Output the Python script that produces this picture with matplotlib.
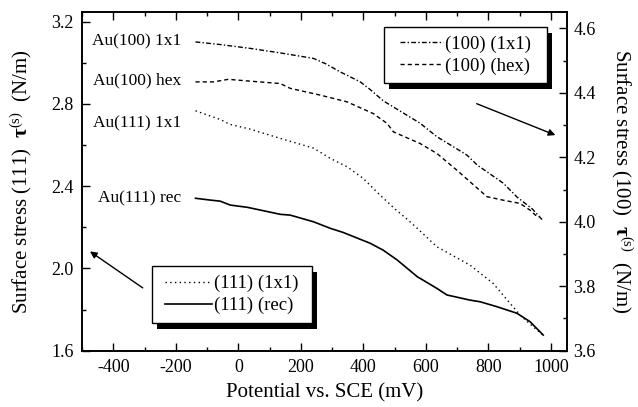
import numpy as np
import matplotlib
matplotlib.use('Agg')
import matplotlib.pyplot as plt
from matplotlib.ticker import MultipleLocator, FormatStrFormatter
from matplotlib.patches import Rectangle
from matplotlib.transforms import ScaledTranslation

plt.rcParams['font.family'] = ['Liberation Serif', 'DejaVu Serif']
plt.rcParams['mathtext.fontset'] = 'custom'
plt.rcParams['mathtext.rm'] = 'Liberation Serif'
plt.rcParams['mathtext.it'] = 'Liberation Serif:italic'
plt.rcParams['mathtext.bf'] = 'Liberation Serif:bold'
plt.rcParams['axes.unicode_minus'] = False

# (100) surfaces, right axis (N/m)
v_100_1x1 = [-137, -58, 38, 134, 240, 280, 326, 390, 422, 464, 581, 635, 731, 764, 847, 891, 940, 975]
s_100_1x1 = [4.558, 4.550, 4.538, 4.524, 4.507, 4.490, 4.465, 4.434, 4.410, 4.375, 4.306, 4.264, 4.207, 4.176, 4.120, 4.077, 4.040, 4.003]

v_100_hex = [-137, -80, -32, 29, 134, 166, 262, 348, 431, 476, 496, 581, 635, 699, 741, 795, 847, 901, 933, 960]
s_100_hex = [4.434, 4.434, 4.442, 4.437, 4.429, 4.414, 4.393, 4.372, 4.336, 4.305, 4.279, 4.243, 4.212, 4.160, 4.124, 4.078, 4.067, 4.057, 4.036, 4.012]

# (111) surfaces, left axis (N/m)
v_111_1x1 = [-137, -58, -26, 38, 134, 240, 294, 348, 399, 444, 500, 543, 572, 635, 741, 815, 901, 940, 975]
s_111_1x1 = [2.766, 2.724, 2.700, 2.677, 2.632, 2.585, 2.535, 2.494, 2.438, 2.370, 2.290, 2.235, 2.195, 2.105, 2.016, 1.927, 1.773, 1.720, 1.676]

v_111_rec = [-137, -89, -58, -26, 29, 134, 166, 240, 294, 335, 422, 463, 508, 572, 635, 667, 741, 773, 827, 891, 933, 975]
s_111_rec = [2.341, 2.332, 2.327, 2.308, 2.297, 2.263, 2.259, 2.227, 2.195, 2.175, 2.122, 2.089, 2.041, 1.960, 1.903, 1.871, 1.846, 1.838, 1.814, 1.782, 1.741, 1.676]

curve_labels = ['Au(100) 1x1', 'Au(100) hex', 'Au(111) 1x1', 'Au(111) rec']

fig = plt.figure(figsize=(6.38, 4.07), dpi=100)
ax = fig.add_axes([0.1285, 0.1383, 0.7597, 0.8315])
ax2 = ax.twinx()

l1, = ax.plot(v_111_1x1, s_111_1x1, color='black', lw=1.0, dashes=(1, 2.4), label='(111) (1x1)')
l2, = ax.plot(v_111_rec, s_111_rec, color='black', lw=1.2, label='(111) (rec)')
l3, = ax2.plot(v_100_1x1, s_100_1x1, color='black', lw=1.0, dashes=(3.5, 1.6, 1, 1.6), label='(100) (1x1)')
l4, = ax2.plot(v_100_hex, s_100_hex, color='black', lw=1.0, dashes=(3, 2.2), label='(100) (hex)')

ax.set_xlim(-500, 1050)
ax.set_ylim(1.6, 3.245)
ax2.set_ylim(3.6, 4.65)

ax.xaxis.set_major_locator(MultipleLocator(200))
ax.xaxis.set_minor_locator(MultipleLocator(100))
ax.yaxis.set_major_locator(MultipleLocator(0.4))
ax.yaxis.set_minor_locator(MultipleLocator(0.2))
ax2.yaxis.set_major_locator(MultipleLocator(0.2))
ax2.yaxis.set_minor_locator(MultipleLocator(0.1))
ax.yaxis.set_major_formatter(FormatStrFormatter('%.1f'))
ax2.yaxis.set_major_formatter(FormatStrFormatter('%.1f'))

ax.tick_params(axis='x', which='both', direction='in', top=True, labelsize=13, pad=6)
ax.tick_params(axis='y', which='both', direction='in', right=False, labelsize=13, pad=6)
ax2.tick_params(axis='y', which='both', direction='in', labelsize=13, pad=5)
for a in (ax, ax2):
    a.tick_params(which='major', length=6, width=1)
    a.tick_params(which='minor', length=3, width=1)
    for sp in a.spines.values():
        sp.set_linewidth(1.2)

ax.set_xlabel('Potential vs. SCE (mV)', fontsize=15, labelpad=5)
ax.set_ylabel(r'Surface stress (111)  $\mathbf{\tau}^{\mathrm{(s)}}$  (N/m)', fontsize=15, labelpad=12)
ax2.set_ylabel(r'Surface stress (100)  $\mathbf{\tau}^{\mathrm{(s)}}$  (N/m)', fontsize=15,
               rotation=270, labelpad=28)

# curve labels
for txt, yy in zip(curve_labels, [0.913, 0.800, 0.673, 0.451]):
    ax.text(0.204, yy, txt, transform=ax.transAxes, ha='right', va='center', fontsize=12.5)

# legends: framed boxes with a solid black drop shadow, drawn by hand
boxes = [(0.6019, 0.7953, 0.2550, 0.1391), (0.2382, 0.2057, 0.2508, 0.1415)]
groups = [([l3, l4], 2.3), ([l1, l2], 2.5)]
shadow_off = ScaledTranslation(5 / 100, -6 / 100, fig.dpi_scale_trans)
legs = []
for (x0, y0, w, h), (hands, hl) in zip(boxes, groups):
    ax2.add_patch(Rectangle((x0, y0), w, h, transform=fig.transFigure + shadow_off,
                            facecolor='black', edgecolor='none', zorder=5.4, clip_on=False))
    ax2.add_patch(Rectangle((x0, y0), w, h, transform=fig.transFigure,
                            facecolor='white', edgecolor='black', lw=1.0, zorder=5.5, clip_on=False))
    lg = ax2.legend(handles=hands, loc='center', bbox_to_anchor=(x0 + w / 2, y0 + h / 2),
                    bbox_transform=fig.transFigure, fontsize=13.5, frameon=False,
                    handlelength=hl, borderpad=0.3, labelspacing=0.25, handletextpad=0.1,
                    borderaxespad=0)
    lg.set_zorder(6)
    legs.append(lg)
ax2.add_artist(legs[0])

arrow = dict(arrowstyle='-|>', color='black', lw=1.0, mutation_scale=10)
ax.annotate('', xy=(0.982, 0.634), xytext=(0.809, 0.733), xycoords='axes fraction',
            textcoords='axes fraction', arrowprops=arrow)
ax.annotate('', xy=(0.0118, 0.298), xytext=(0.130, 0.181), xycoords='axes fraction',
            textcoords='axes fraction', arrowprops=arrow)

fig.savefig('out.png', dpi=100)
